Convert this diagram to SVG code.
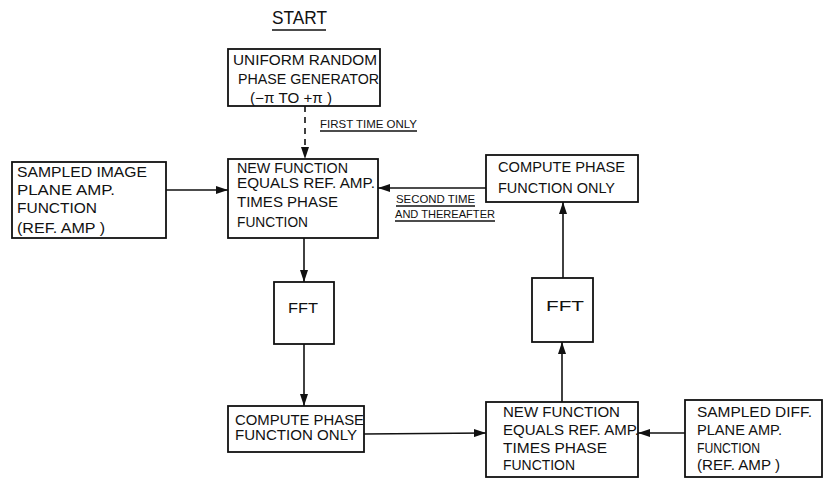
<svg xmlns="http://www.w3.org/2000/svg" width="825" height="480" viewBox="0 0 825 480">
<style>
.box{fill:#fff;stroke:#111;stroke-width:1.8}
text{font-family:"Liberation Sans",Arial,sans-serif;font-size:14px;fill:#111}
.sm{font-size:11px}
.ln{stroke:#111;stroke-width:1.6;fill:none}
.ul{stroke:#111;stroke-width:1.3}
</style>
<defs>
<marker id="ah" viewBox="0 0 12 8" refX="12" refY="4" markerWidth="12" markerHeight="8" markerUnits="userSpaceOnUse" orient="auto">
<path d="M0,0 L12,4 L0,8 Z" fill="#111"/>
</marker>
</defs>
<rect width="825" height="480" fill="#fff"/>
<g id="start">
<text x="272" y="24" style="font-size:18px" textLength="55" lengthAdjust="spacingAndGlyphs">START</text>
<line class="ul" x1="272" y1="30" x2="326" y2="30" stroke-width="2"/>
</g>
<g id="uniform">
<rect class="box" x="228" y="49" width="152" height="57"/>
<text x="233" y="65" textLength="144" lengthAdjust="spacingAndGlyphs">UNIFORM RANDOM</text>
<text x="238" y="84" textLength="141" lengthAdjust="spacingAndGlyphs">PHASE GENERATOR</text>
<text x="250" y="103" textLength="82" lengthAdjust="spacingAndGlyphs">(−π TO +π )</text>
</g>
<g id="newfunc1">
<rect class="box" x="228" y="159" width="150" height="79"/>
<text x="237" y="173" textLength="111" lengthAdjust="spacingAndGlyphs">NEW FUNCTION</text>
<text x="237" y="188" textLength="138" lengthAdjust="spacingAndGlyphs">EQUALS REF. AMP.</text>
<text x="237" y="207" textLength="101" lengthAdjust="spacingAndGlyphs">TIMES PHASE</text>
<text x="237" y="227" textLength="71" lengthAdjust="spacingAndGlyphs">FUNCTION</text>
</g>
<g id="sampledimage">
<rect class="box" x="12" y="162" width="154" height="76"/>
<text x="17" y="177" textLength="130" lengthAdjust="spacingAndGlyphs">SAMPLED IMAGE</text>
<text x="17" y="195" textLength="98" lengthAdjust="spacingAndGlyphs">PLANE AMP.</text>
<text x="17" y="213" textLength="80" lengthAdjust="spacingAndGlyphs">FUNCTION</text>
<text x="17" y="233" textLength="88" lengthAdjust="spacingAndGlyphs">(REF. AMP )</text>
</g>
<g id="computephase1">
<rect class="box" x="486" y="155" width="152" height="47"/>
<text x="498" y="172" textLength="127" lengthAdjust="spacingAndGlyphs">COMPUTE PHASE</text>
<text x="498" y="193" textLength="117" lengthAdjust="spacingAndGlyphs">FUNCTION ONLY</text>
</g>
<g id="fft1">
<rect class="box" x="274" y="282" width="60" height="62"/>
<text x="288" y="313" textLength="30" lengthAdjust="spacingAndGlyphs">FFT</text>
</g>
<g id="fft2">
<rect class="box" x="532" y="278" width="61" height="64"/>
<text x="546" y="311" textLength="38" lengthAdjust="spacingAndGlyphs">FFT</text>
</g>
<g id="computephase2">
<rect class="box" x="228" y="406" width="136" height="46"/>
<text x="235" y="425" textLength="129" lengthAdjust="spacingAndGlyphs">COMPUTE PHASE</text>
<text x="235" y="440" textLength="122" lengthAdjust="spacingAndGlyphs">FUNCTION ONLY</text>
</g>
<g id="newfunc2">
<rect class="box" x="486" y="402" width="152" height="75"/>
<text x="503" y="417" textLength="117" lengthAdjust="spacingAndGlyphs">NEW FUNCTION</text>
<text x="503" y="435" textLength="136" lengthAdjust="spacingAndGlyphs">EQUALS REF. AMP.</text>
<text x="503" y="453" textLength="104" lengthAdjust="spacingAndGlyphs">TIMES PHASE</text>
<text x="503" y="470" textLength="72" lengthAdjust="spacingAndGlyphs">FUNCTION</text>
</g>
<g id="sampleddiff">
<rect class="box" x="685" y="400" width="137" height="77"/>
<text x="697" y="417" textLength="115" lengthAdjust="spacingAndGlyphs">SAMPLED DIFF.</text>
<text x="697" y="435" textLength="85" lengthAdjust="spacingAndGlyphs">PLANE AMP.</text>
<text x="697" y="453" textLength="63" lengthAdjust="spacingAndGlyphs">FUNCTION</text>
<text x="697" y="470" textLength="83" lengthAdjust="spacingAndGlyphs">(REF. AMP )</text>
</g>
<g id="connectors">
<line class="ln" x1="305" y1="106" x2="305" y2="159" stroke-dasharray="6,5" marker-end="url(#ah)"/>
<line class="ln" x1="166" y1="190" x2="228" y2="190" marker-end="url(#ah)"/>
<line class="ln" x1="486" y1="188" x2="378" y2="188" marker-end="url(#ah)"/>
<line class="ln" x1="304" y1="238" x2="304" y2="282" marker-end="url(#ah)"/>
<line class="ln" x1="304" y1="344" x2="304" y2="406" marker-end="url(#ah)"/>
<line class="ln" x1="364" y1="434" x2="486" y2="433" marker-end="url(#ah)"/>
<line class="ln" x1="685" y1="433" x2="638" y2="433" marker-end="url(#ah)"/>
<line class="ln" x1="562" y1="402" x2="562" y2="342" marker-end="url(#ah)"/>
<line class="ln" x1="563" y1="278" x2="563" y2="202" marker-end="url(#ah)"/>
</g>
<g id="labels">
<text class="sm" x="320" y="128" textLength="97" lengthAdjust="spacingAndGlyphs">FIRST TIME ONLY</text>
<line class="ul" x1="320" y1="131" x2="417" y2="131"/>
<text class="sm" x="396" y="203" textLength="79" lengthAdjust="spacingAndGlyphs">SECOND TIME</text>
<line class="ul" x1="396" y1="206" x2="475" y2="206"/>
<text class="sm" x="395" y="218" textLength="100" lengthAdjust="spacingAndGlyphs">AND THEREAFTER</text>
<line class="ul" x1="395" y1="221" x2="495" y2="221"/>
</g>
</svg>
